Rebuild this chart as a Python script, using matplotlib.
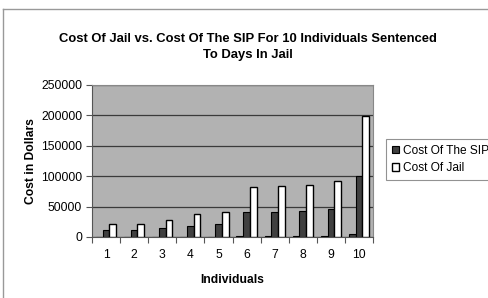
import matplotlib
matplotlib.use("Agg")
import matplotlib.pyplot as plt
from matplotlib.lines import Line2D
import numpy as np

plt.rcParams['font.family'] = ['Liberation Sans', 'DejaVu Sans']

# data
individuals = ['1', '2', '3', '4', '5', '6', '7', '8', '9', '10']
unnamed_series = [0, 0, 0, 0, 0, 1200, 1200, 1200, 1200, 4000]
sip_cost = [11000, 11000, 15000, 18000, 20500, 41000, 41000, 42500, 46500, 100500]
jail_cost = [20500, 22000, 27500, 38500, 40500, 82000, 83500, 85000, 92000, 198500]
y_ticks = [0, 50000, 100000, 150000, 200000, 250000]

fig = plt.figure(figsize=(4.89, 2.98), dpi=100)
ax = fig.add_axes([0.188, 0.205, 0.575, 0.510])

x = np.arange(len(individuals))
w = 0.24
ax.bar(x - w, unnamed_series, w, color='#404040', edgecolor='black', linewidth=0.8, zorder=3)
ax.bar(x, sip_cost, w, color='#404040', edgecolor='black', linewidth=0.8,
       label='Cost Of The SIP', zorder=3)
ax.bar(x + w, jail_cost, w, color='white', edgecolor='black', linewidth=1.0,
       label='Cost Of Jail', zorder=3)

ax.set_facecolor('#b2b2b2')
ax.set_xlim(-0.5, len(individuals) - 0.5)
ax.set_ylim(0, 250000)
ax.set_yticks(y_ticks)
ax.set_yticklabels([str(v) for v in y_ticks])
ax.yaxis.grid(True, color='#3a3a3a', linewidth=0.9, zorder=0)
ax.set_axisbelow(True)

# category ticks sit between groups, labels in the middle
ax.set_xticks(np.arange(len(individuals) + 1) - 0.5)
ax.set_xticklabels([])
ax.set_xticks(x, minor=True)
ax.set_xticklabels(individuals, minor=True)
ax.tick_params(axis='x', which='minor', length=0, pad=9, labelsize=8.7)
ax.tick_params(axis='x', which='major', length=4, color='#555555')
ax.tick_params(axis='y', length=4, color='#555555', labelsize=8.7, pad=3)

for s in ['top', 'right']:
    ax.spines[s].set_color('#888888')
for s in ['left', 'bottom']:
    ax.spines[s].set_color('#555555')

ax.set_xlabel('Individuals', fontsize=8.7, fontweight='bold', labelpad=9)
ax.set_ylabel('Cost in Dollars', fontsize=8.7, fontweight='bold', labelpad=3)

fig.text(0.507, 0.843, 'Cost Of Jail vs. Cost Of The SIP For 10 Individuals Sentenced\nTo Days In Jail',
         ha='center', va='center', fontsize=9.4, fontweight='bold', linespacing=1.4)

leg = fig.legend(loc='upper left', bbox_to_anchor=(0.789, 0.534), frameon=True,
                 fancybox=False, fontsize=8.6, handlelength=0.6, handleheight=0.6,
                 handletextpad=0.3, borderpad=0.5, labelspacing=0.45, borderaxespad=0)
leg.get_frame().set_edgecolor('#777777')
leg.get_frame().set_linewidth(0.8)

# chart area border (left and top only visible)
fig.add_artist(Line2D([0.007, 0.007], [0.0, 0.97], color='#999999', linewidth=1.0))
fig.add_artist(Line2D([0.007, 1.0], [0.97, 0.97], color='#999999', linewidth=1.0))

fig.savefig('out.png', dpi=100)
